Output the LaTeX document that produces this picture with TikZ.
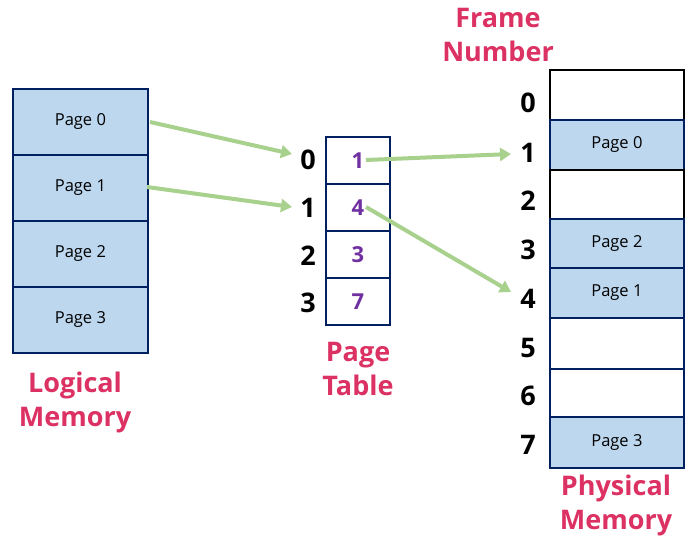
\documentclass[tikz,border=0pt]{standalone}
\usepackage{fontspec}
\setmainfont{Open Sans}
\usetikzlibrary{arrows.meta}
\definecolor{cellblue}{HTML}{BDD7EE}
\definecolor{navy}{HTML}{002060}
\definecolor{titlered}{HTML}{DC3163}
\definecolor{valpurple}{HTML}{7030A0}
\definecolor{arrowgreen}{HTML}{A9D18E}
\begin{document}
\begin{tikzpicture}[x=1pt,y=-1pt,
  cell/.style={draw=navy,line width=1.8pt,fill=cellblue,minimum width=135pt,inner sep=0pt,font=\fontsize{16.5}{20}\selectfont,anchor=north west},
  emptycell/.style={draw=black,line width=1.8pt,fill=white,minimum width=134pt,inner sep=0pt,anchor=north west},
  ptcell/.style={draw=navy,line width=1.8pt,fill=white,minimum width=64pt,minimum height=47pt,inner sep=0pt,anchor=north west,text=valpurple,font=\bfseries\fontsize{22}{26}\selectfont},
  idx/.style={font=\bfseries\fontsize{27}{30}\selectfont,text=black},
  title/.style={text=titlered,font=\bfseries\fontsize{27}{34}\selectfont,align=center},
  link/.style={draw=arrowgreen,line width=4pt,-{Triangle[length=11pt,width=13pt]}}
]
\useasboundingbox (0,0) rectangle (691,540);
% Logical memory
\node[cell,minimum height=66pt] (l0) at (12,88) {Page 0};
\node[cell,minimum height=66pt] (l1) at (12,154) {Page 1};
\node[cell,minimum height=66pt] (l2) at (12,220) {Page 2};
\node[cell,minimum height=66pt] (l3) at (12,286) {Page 3};
\node[title] (lt) at (75,402) {Logical\\Memory};
% Page table
\node[ptcell] (p0) at (325,136) {1};
\node[ptcell] (p1) at (325,183) {4};
\node[ptcell] (p2) at (325,230) {3};
\node[ptcell] (p3) at (325,277) {7};
\node[idx] (i0) at (308,160) {0};
\node[idx] (i1) at (308,208) {1};
\node[idx] (i2) at (308,256) {2};
\node[idx] (i3) at (308,303) {3};
\node[title] (pt) at (358,369) {Page\\Table};
% Physical memory
\node[emptycell,minimum height=50pt] (f0) at (549,69) {};
\node[cell,minimum width=134pt,minimum height=50pt] (f1) at (549,119) {Page 0};
\node[emptycell,minimum height=49pt] (f2) at (549,169) {};
\node[cell,minimum width=134pt,minimum height=49pt] (f3) at (549,218) {Page 2};
\node[cell,minimum width=134pt,minimum height=50pt] (f4) at (549,267) {Page 1};
\node[draw=navy,line width=1.8pt,fill=white,minimum width=134pt,minimum height=51pt,inner sep=0pt,anchor=north west] (f5) at (549,317) {};
\node[draw=navy,line width=1.8pt,fill=white,minimum width=134pt,minimum height=48pt,inner sep=0pt,anchor=north west] (f6) at (549,368) {};
\node[cell,minimum width=134pt,minimum height=51pt] (f7) at (549,416) {Page 3};
\foreach \n/\y in {0/103,1/153,2/201,3/250,4/299,5/348,6/396,7/445}{
  \node[idx] (n\n) at (528,\y) {\n};
}
\node[title] (ft) at (498,35) {Frame\\Number};
\node[title] (pmt) at (616,505) {Physical\\Memory};
% arrows
\coordinate (a0s) at (150,122);
\coordinate (a0e) at (292,154);
\coordinate (a1s) at (147,187);
\coordinate (a1e) at (292,207);
\coordinate (a2s) at (366,160);
\coordinate (a2e) at (511,154);
\coordinate (a3s) at (366,207);
\coordinate (a3e) at (511,292);
\draw[link] (a0s) -- (a0e);
\draw[link] (a1s) -- (a1e);
\draw[link] (a2s) -- (a2e);
\draw[link] (a3s) -- (a3e);
\end{tikzpicture}
\end{document}
